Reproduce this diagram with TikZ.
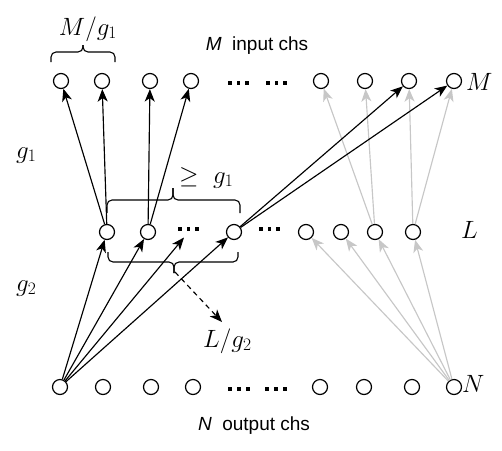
\RequirePackage{fix-cm}
\documentclass[tikz,border=0pt]{standalone}
\usepackage{fontspec}
\setsansfont{Liberation Sans}
\usetikzlibrary{arrows.meta}
\tikzset{
  ch/.style={circle,draw,line width=1.2pt,minimum size=15pt,inner sep=0pt},
  dotsnode/.style={inner sep=0pt},
  blk/.style={line width=1.15pt,-{Stealth[length=12.5pt,width=10pt,inset=3.5pt]}},
  gry/.style={blk,color=black!22},
  dsh/.style={blk,dash pattern=on 5pt off 4pt},
  mlabel/.style={inner sep=0pt,font=\fontsize{25}{30}\selectfont},
  slabel/.style={inner sep=0pt,font=\fontsize{19}{23}\selectfont\sffamily},
  brc/.style={line width=1.1pt,rounded corners=5pt},
}
\newcommand{\chdots}{\rule{3.8pt}{3.8pt}\hspace{5pt}\rule{3.8pt}{3.8pt}\hspace{5pt}\rule{3.8pt}{3.8pt}}
\begin{document}
\begin{tikzpicture}[x=1pt,y=-1pt]
\useasboundingbox (0,0) rectangle (502,450);
% top row
\foreach \n/\x in {t1/61,t2/102,t3/150,t4/191,t5/321,t6/365,t7/409,t8/454}
  \node[ch] (\n) at (\x,81) {};
\node[dotsnode] (td1) at (238.5,83) {\chdots};
\node[dotsnode] (td2) at (276.5,83) {\chdots};
% middle row
\foreach \n/\x in {m1/107,m2/148,m4/234,m5/306,m6/341,m7/375,m8/413}
  \node[ch] (\n) at (\x,232) {};
\node[dotsnode] (md1) at (188.5,229) {\chdots};
\node[dotsnode] (md2) at (269.5,229) {\chdots};
\coordinate (mdtip) at (184,237.5);
% bottom row
\foreach \n/\x in {b1/60,b2/103,b3/151,b4/193,b5/320,b6/364,b7/412,b8/454}
  \node[ch] (\n) at (\x,387) {};
\node[dotsnode] (bd1) at (239,389) {\chdots};
\node[dotsnode] (bd2) at (276,389) {\chdots};
% labels
\node[slabel,anchor=base] (lin) at (257,50) {\textit{M}\ \ input chs};
\node[slabel,anchor=base] (lout) at (254,430) {\textit{N}\ \ output chs};
\node[mlabel,anchor=base] (lMg) at (88,35) {$M/g_1$};
\node[mlabel,anchor=base west] (lg1) at (16,158) {$g_1$};
\node[mlabel,anchor=base west] (lg2) at (16,291) {$g_2$};
\node[mlabel,anchor=base west] (lgeq) at (179,183) {$\geq\ g_1$};
\node[mlabel,anchor=base west] (lLg) at (203,347) {$L/g_2$};
\node[mlabel,anchor=base west] (lM) at (466,90) {$M$};
\node[mlabel,anchor=base west] (lL) at (461,238) {$L$};
\node[mlabel,anchor=base west] (lN) at (462,392) {$N$};
% braces
\draw[brc] (51,62) -- (51,52) -- (83,52) -- (83,45);
\draw[brc] (115,62) -- (115,52) -- (83,52) -- (83,45);
\draw[brc] (107,213) -- (107,200) -- (173,200) -- (173,188);
\draw[brc] (240,213) -- (240,200) -- (173,200) -- (173,188);
\draw[brc] (108,252) -- (108,262) -- (174,262) -- (174,273);
\draw[brc] (238,252) -- (238,262) -- (174,262) -- (174,273);
\coordinate (btip) at (175,272);
\coordinate (dend) at (222,322);
% gray connectors
\foreach \s/\t in {m7/t5,m7/t6,m8/t7,m8/t8,b8/m5,b8/m6,b8/m7,b8/m8}
  \draw[gry] (\s) -- (\t);
% black connectors
\foreach \s/\t in {m1/t1,m1/t2,m2/t3,m2/t4,m4/t7,m4/t8,b1/m1,b1/m2,b1/m4}
  \draw[blk] (\s) -- (\t);
\draw[blk] (b1) -- (mdtip);
\draw[dsh] (btip) -- (dend);
\end{tikzpicture}
\end{document}
